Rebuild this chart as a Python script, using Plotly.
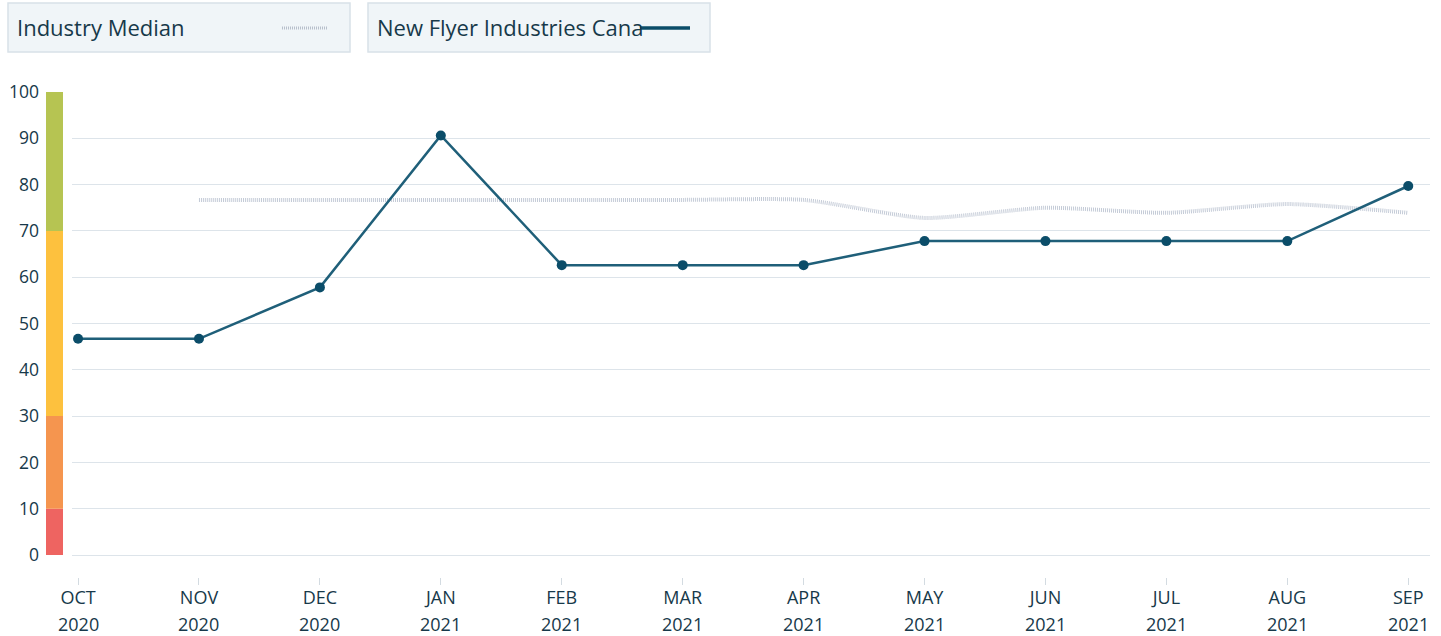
import plotly.graph_objects as go

months = ["OCT", "NOV", "DEC", "JAN", "FEB", "MAR", "APR", "MAY", "JUN", "JUL", "AUG", "SEP"]
years = ["2020", "2020", "2020", "2021", "2021", "2021", "2021", "2021", "2021", "2021", "2021", "2021"]
company = [46.7, 46.7, 57.8, 90.6, 62.6, 62.6, 62.6, 67.8, 67.8, 67.8, 67.8, 79.7]
median = [None, 76.7, 76.7, 76.7, 76.7, 76.7, 76.7, 72.8, 75.0, 73.9, 75.8, 73.9]
yticks = [0, 10, 20, 30, 40, 50, 60, 70, 80, 90, 100]
bands = [(0, 10, "#ee6461"), (10, 30, "#f5954f"), (30, 70, "#fdc13e"), (70, 100, "#b6c452")]

TXT = "#17394a"
H = 636
T = 92
BOT = 577
PH = BOT - T
L, R = 72, 1430
PW = R - L

def py(ypx):
    return (BOT - ypx) / PH

def px(xpx):
    return (xpx - L) / PW

fig = go.Figure()
fig.add_trace(go.Scatter(x=months, y=median, mode="lines", connectgaps=False,
                         line=dict(color="#c4cbd7", width=4, dash="1px,1px", shape="spline", smoothing=0.6),
                         hoverinfo="skip", showlegend=False))
fig.add_trace(go.Scatter(x=months, y=company, mode="lines+markers",
                         line=dict(color="#1f5f79", width=2.5),
                         marker=dict(color="#0b4d69", size=10),
                         showlegend=False, cliponaxis=False))

shapes = []
for lo, hi, c in bands:
    shapes.append(dict(type="rect", xref="paper", yref="y", x0=px(46), x1=px(63), y0=lo, y1=hi,
                       fillcolor=c, line=dict(width=0), layer="above"))
for x0, x1 in [(8, 350), (368, 710)]:
    shapes.append(dict(type="rect", xref="paper", yref="paper",
                       x0=px(x0), x1=px(x1), y0=py(52), y1=py(3),
                       fillcolor="#f0f5f8", line=dict(color="#d8e1e8", width=1.5)))
annotations = [
    dict(text="Industry Median", xref="paper", yref="paper", x=px(15), y=py(27),
         xanchor="left", yanchor="middle", showarrow=False, font=dict(size=22, color=TXT, family="Open Sans")),
    dict(text="New Flyer Industries Cana", xref="paper", yref="paper", x=px(375), y=py(27),
         xanchor="left", yanchor="middle", showarrow=False, font=dict(size=22, color=TXT, family="Open Sans")),
]
for m, yr in zip(months, years):
    annotations.append(dict(text=yr, x=m, xref="x", yref="paper", y=py(624), yanchor="middle",
                            xanchor="center", showarrow=False, font=dict(size=18, color=TXT, family="Open Sans")))
shapes.append(dict(type="line", xref="paper", yref="paper", x0=px(282), x1=px(328), y0=py(28), y1=py(28),
                   line=dict(color="#b8c0cc", width=3, dash="1px,1px")))
shapes.append(dict(type="line", xref="paper", yref="paper", x0=px(640), x1=px(690), y0=py(28), y1=py(28),
                   line=dict(color="#0b4d69", width=3.5)))

fig.update_layout(
    width=1441, height=H,
    margin=dict(l=L, r=1441 - R, t=T, b=H - BOT, autoexpand=False),
    paper_bgcolor="white", plot_bgcolor="white",
    font=dict(family="Open Sans", color=TXT, size=18),
    shapes=shapes, annotations=annotations,
    showlegend=False,
)
fig.update_xaxes(type="category", range=[-0.05, 11.18], showgrid=False, zeroline=False,
                 ticks="outside", ticklen=7, tickcolor="#d3dbe1", tickwidth=1, automargin=False,
                 ticklabelstandoff=-3,
                 tickfont=dict(size=18, color=TXT), showline=False)
fig.update_yaxes(range=[-4.75, 100], tickvals=yticks, showgrid=True, gridcolor="#dde4ea", gridwidth=1,
                 zeroline=False, showline=False, ticklabelstandoff=32, automargin=False,
                 tickfont=dict(size=17.5, color=TXT))

fig.write_html("out.html", config={"displayModeBar": False},
               post_script="document.body.style.margin='0';document.body.style.overflow='hidden';")
